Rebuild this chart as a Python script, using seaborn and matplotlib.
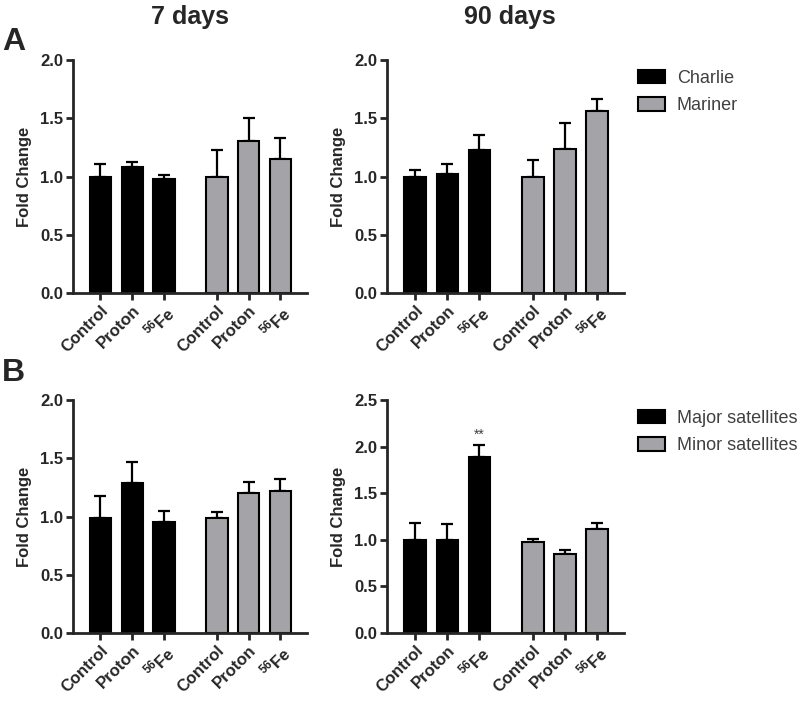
import numpy as np
import pandas as pd
import seaborn as sns
import matplotlib.pyplot as plt

sns.set_style('ticks')
plt.rcParams['font.family'] = ['Liberation Sans', 'DejaVu Sans']
plt.rcParams['mathtext.fontset'] = 'custom'
plt.rcParams['mathtext.rm'] = 'Liberation Sans:bold'
plt.rcParams['mathtext.bf'] = 'Liberation Sans:bold'
plt.rcParams['mathtext.it'] = 'Liberation Sans:bold'

treatments = ['Control', 'Proton', '$^{56}$Fe']

# panel A: transposable elements
charlie_7 = [1.00, 1.08, 0.98]
charlie_7_err = [0.11, 0.05, 0.03]
mariner_7 = [1.00, 1.31, 1.15]
mariner_7_err = [0.23, 0.19, 0.18]
charlie_90 = [1.00, 1.02, 1.23]
charlie_90_err = [0.06, 0.09, 0.13]
mariner_90 = [1.00, 1.24, 1.56]
mariner_90_err = [0.14, 0.22, 0.11]

# panel B: satellites
major_7 = [0.99, 1.29, 0.95]
major_7_err = [0.19, 0.18, 0.10]
minor_7 = [0.99, 1.20, 1.22]
minor_7_err = [0.05, 0.10, 0.10]
major_90 = [1.00, 1.00, 1.89]
major_90_err = [0.18, 0.17, 0.13]
minor_90 = [0.975, 0.85, 1.12]
minor_90_err = [0.03, 0.04, 0.065]

positions = [0, 1, 2, 3.66, 4.66, 5.66]
gray = '#a3a3a8'


def panel(ax, a, a_err, b, b_err, names, ymax, legend):
    df = pd.DataFrame({'pos': positions,
                       'fold': a + b,
                       'err': a_err + b_err,
                       'element': [names[0]] * 3 + [names[1]] * 3})
    sns.barplot(data=df, x='pos', y='fold', hue='element', hue_order=names,
                palette=['black', gray], native_scale=True, dodge=False,
                width=0.67, saturation=1, edgecolor='black', linewidth=1.5,
                ax=ax, legend=legend)
    ax.errorbar(df['pos'], df['fold'], yerr=[np.zeros(len(df)), df['err']],
                fmt='none', ecolor='black', elinewidth=1.6, capsize=4,
                capthick=1.6, zorder=0.5)
    ax.set_xlim(-0.87, 6.5)
    ax.set_ylim(0, ymax)
    ax.set_yticks(np.arange(0, ymax + 0.01, 0.5))
    ax.set_yticklabels([f'{v:.1f}' for v in np.arange(0, ymax + 0.01, 0.5)],
                       fontsize=12, fontweight='bold')
    ax.set_xticks(positions)
    ax.set_xticklabels(treatments * 2, rotation=45, ha='right',
                       rotation_mode='anchor', fontsize=12, fontweight='bold')
    ax.set_xlabel('')
    ax.set_ylabel('Fold Change', fontsize=12, fontweight='bold', labelpad=6)
    sns.despine(ax=ax)
    for s in ['left', 'bottom']:
        ax.spines[s].set_linewidth(2)
    ax.tick_params(width=2, length=5, pad=2)
    if legend:
        sns.move_legend(ax, 'upper left', bbox_to_anchor=(0.99, 1.03),
                        title=None, frameon=False, fontsize=13,
                        labelcolor='#404040', handlelength=1.5,
                        handleheight=0.75, handletextpad=0.65,
                        labelspacing=0.6)


fig = plt.figure(figsize=(8, 7.01), dpi=100)
ax1 = fig.add_axes([0.091, 0.582, 0.293, 0.332])
ax2 = fig.add_axes([0.484, 0.582, 0.296, 0.332])
ax3 = fig.add_axes([0.091, 0.097, 0.293, 0.332])
ax4 = fig.add_axes([0.484, 0.097, 0.296, 0.332])

panel(ax1, charlie_7, charlie_7_err, mariner_7, mariner_7_err,
      ['Charlie', 'Mariner'], 2.0, False)
panel(ax2, charlie_90, charlie_90_err, mariner_90, mariner_90_err,
      ['Charlie', 'Mariner'], 2.0, True)
panel(ax3, major_7, major_7_err, minor_7, minor_7_err,
      ['Major satellites', 'Minor satellites'], 2.0, False)
panel(ax4, major_90, major_90_err, minor_90, minor_90_err,
      ['Major satellites', 'Minor satellites'], 2.5, True)

ax4.text(positions[2], major_90[2] + major_90_err[2] + 0.03, '**',
         ha='center', va='bottom', fontsize=10, color='#404040')

fig.text(190 / 800, 1 - 17 / 701, '7 days', ha='center', va='center',
         fontsize=18, fontweight='bold')
fig.text(510 / 800, 1 - 17 / 701, '90 days', ha='center', va='center',
         fontsize=18, fontweight='bold')
fig.text(2 / 800, 1 - 42 / 701, 'A', ha='left', va='center',
         fontsize=23, fontweight='bold')
fig.text(2 / 800, 1 - 373 / 701, 'B', ha='left', va='center',
         fontsize=23, fontweight='bold')

fig.savefig('out.png', dpi=100)
